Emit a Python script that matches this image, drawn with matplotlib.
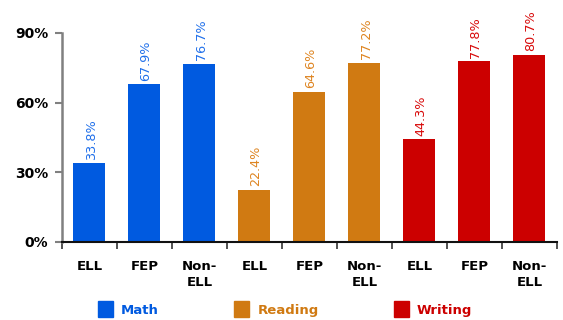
import matplotlib.pyplot as plt
import numpy as np
from matplotlib.patches import Patch

# scores by subject and student group
groups = ['ELL', 'FEP', 'Non-\nELL']
subjects = ['Math', 'Reading', 'Writing']
math_vals = [33.8, 67.9, 76.7]
reading_vals = [22.4, 64.6, 77.2]
writing_vals = [44.3, 77.8, 80.7]
yticks = [0, 30, 60, 90]

bar_colors = ['#005AE0', '#D07A12', '#CC0000']
text_colors = ['#1F6FEA', '#DE8420', '#D80A0A']

fig = plt.figure(figsize=(5.63, 3.2), dpi=100)
ax = fig.add_axes([0.110, 0.244, 0.879, 0.653])

series = [math_vals, reading_vals, writing_vals]
pos = 0
for vals, col, tcol in zip(series, bar_colors, text_colors):
    xs = np.arange(pos, pos + len(vals))
    ax.bar(xs, vals, width=0.58, color=col)
    for x, v in zip(xs, vals):
        ax.text(x + 0.03, v + 1.5, f'{v:.1f}%', rotation=90, ha='center', va='bottom',
                fontsize=9.2, color=tcol)
    pos += len(vals)

n = pos
ax.set_xlim(-0.5, n - 0.5)
ax.set_ylim(0, 90)
ax.set_yticks(yticks)
ax.set_yticklabels([f'{t}%' for t in yticks], fontsize=10, fontweight='bold')

ax.set_xticks(np.arange(n))
ax.set_xticklabels(groups * 3, fontsize=9.5, fontweight='bold', linespacing=1.35)
ax.set_xticks(np.arange(n + 1) - 0.5, minor=True)
ax.tick_params(axis='x', which='major', length=0, pad=13)
ax.tick_params(axis='x', which='minor', length=5, width=1.2, color='#333333')
ax.tick_params(axis='y', length=5, width=1.5, color='#808080', pad=5)

for s in ['top', 'right']:
    ax.spines[s].set_visible(False)
ax.spines['left'].set_color('#808080')
ax.spines['left'].set_linewidth(1.8)
ax.spines['bottom'].set_color('#111111')
ax.spines['bottom'].set_linewidth(1.5)

handles = [Patch(color=c, label=s) for c, s in zip(bar_colors, subjects)]
leg = fig.legend(handles=handles, ncol=3, loc='center left', bbox_to_anchor=(0.153, 0.033),
                 frameon=False, handlelength=1.15, handleheight=1.5, handletextpad=0.6,
                 columnspacing=5.7, prop={'size': 9.5, 'weight': 'bold'})
for t, c in zip(leg.get_texts(), bar_colors):
    t.set_color(c)

fig.savefig('out.png', dpi=100)
